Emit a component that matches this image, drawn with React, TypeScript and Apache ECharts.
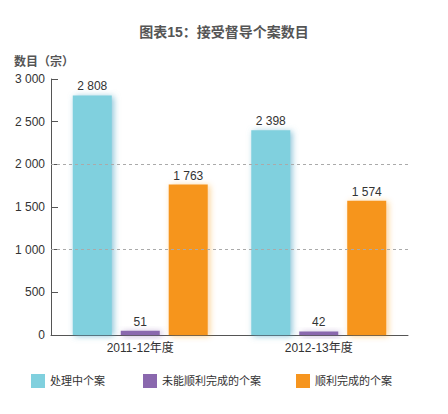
import { useEffect, useRef } from "react";
import * as echarts from "echarts";

const categories = ["2011-12年度", "2012-13年度"];
const seriesNames = ["处理中个案", "未能顺利完成的个案", "顺利完成的个案"];
const inProgress = [2808, 2398];
const notCompleted = [51, 42];
const completed = [1763, 1574];
const gridLineValues = [1000, 2000];

const colors = ["#80d0de", "#8a68ae", "#f6951f"];
const shadows = ["rgba(90, 170, 200, 0.7)", "rgba(138, 104, 174, 0.6)", "rgba(246, 149, 31, 0.45)"];
const font = "'Liberation Sans', Arial, 'Noto Sans CJK SC', sans-serif";

const fmt = (v: number) => String(v).replace(/\B(?=(\d{3})+(?!\d))/g, " ");

export default function App() {
  const ref = useRef<HTMLDivElement | null>(null);

  useEffect(() => {
    if (!ref.current) {
      return;
    }
    const chart = echarts.init(ref.current, null, { renderer: "svg" });

    const values = [inProgress, notCompleted, completed];
    const legendLefts = [31, 143, 296];

    chart.setOption({
      animation: false,
      backgroundColor: "#ffffff",
      color: colors,
      textStyle: { fontFamily: font },
      title: [
        {
          text: "图表15：接受督导个案数目",
          left: "center",
          top: 20,
          textStyle: { color: "#555555", fontSize: 14, fontWeight: "bold", fontFamily: font }
        },
        {
          text: "数目（宗）",
          left: 9,
          top: 51,
          textStyle: { color: "#555555", fontSize: 12, fontWeight: "bold", fontFamily: font }
        }
      ],
      legend: seriesNames.map((name, i) => ({
        data: [name],
        left: legendLefts[i],
        top: 374,
        padding: 0,
        icon: "rect",
        itemWidth: 14,
        itemHeight: 14,
        selectedMode: false,
        textStyle: { color: "#333333", fontSize: 11, fontFamily: font }
      })),
      grid: {
        left: 51,
        right: 40,
        top: 79,
        bottom: 79
      },
      xAxis: {
        type: "category",
        data: categories,
        axisLine: { lineStyle: { color: "#555555", width: 1 } },
        axisTick: { show: false },
        axisLabel: { color: "#333333", fontSize: 12, margin: 7, fontFamily: font }
      },
      yAxis: {
        type: "value",
        min: 0,
        max: 3000,
        interval: 500,
        axisLine: { show: true, lineStyle: { color: "#555555", width: 1 } },
        axisTick: { show: true, inside: true, length: 7, lineStyle: { color: "#555555" } },
        axisLabel: { color: "#333333", fontSize: 12, margin: 6, formatter: fmt, fontFamily: font },
        splitLine: { show: false }
      },
      series: seriesNames.map((name, i) => ({
        name,
        type: "bar",
        data: values[i],
        barWidth: 39,
        barGap: "23%",
        itemStyle: {
          color: colors[i],
          shadowColor: shadows[i],
          shadowBlur: 6,
          shadowOffsetX: 2,
          shadowOffsetY: 1
        },
        label: {
          show: true,
          position: "top",
          distance: 3,
          color: "#333333",
          fontSize: 12,
          fontFamily: font,
          formatter: (p: { value: number }) => fmt(p.value)
        },
        markLine:
          i === 0
            ? {
                silent: true,
                symbol: "none",
                label: { show: false },
                lineStyle: { color: "#aaaaaa", type: [3, 3], width: 1 },
                data: gridLineValues.map((v) => ({ yAxis: v }))
              }
            : undefined
      }))
    });

    return () => {
      chart.dispose();
    };
  }, []);

  return (
    <div
      ref={ref}
      style={{ position: "fixed", left: 0, top: 0, width: 448, height: 414 }}
    />
  );
}
